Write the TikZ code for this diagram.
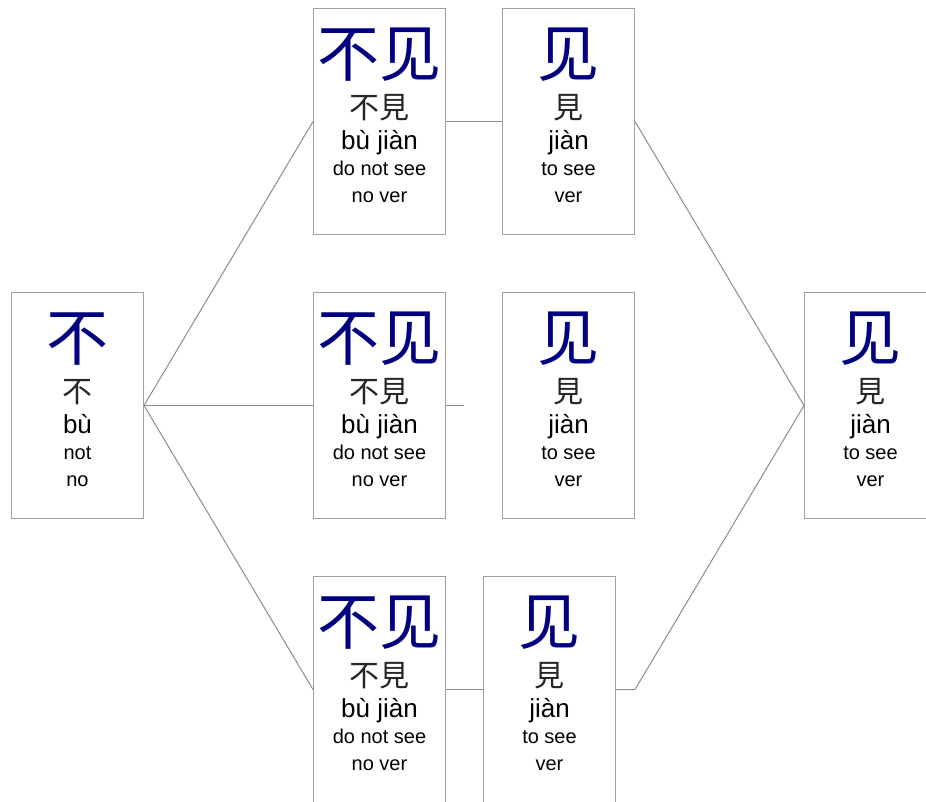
\documentclass[tikz,border=0pt]{standalone}
\usepackage{fontspec}
\setmainfont{Liberation Sans}
\newfontfamily\cjk{Noto Sans CJK SC}
\newfontfamily\cjktc{Noto Sans CJK TC}
\definecolor{hanblue}{RGB}{0,0,128}
\definecolor{edgegray}{RGB}{160,160,160}
\definecolor{wiregray}{RGB}{140,140,140}
\tikzset{
  card/.style={draw=edgegray, line width=0.75pt, fill=white, rectangle,
    minimum width=99pt, minimum height=169.5pt, inner sep=0pt, anchor=north west},
  hanzi/.style={anchor=base, inner sep=0pt, text=hanblue,
    font=\cjk\fontsize{46.5}{46.5}\selectfont},
  trad/.style={anchor=base, inner sep=0pt, text=black!85, font=\cjktc\fontsize{22.5}{22.5}\selectfont},
  pinyin/.style={anchor=base, inner sep=0pt, font=\fontsize{19.5}{19.5}\selectfont},
  gloss/.style={anchor=base, inner sep=0pt, font=\fontsize{15}{15}\selectfont},
  wire/.style={draw=wiregray, line width=0.75pt},
}
\newcommand\mycard[7]{%
  \node[card] (#1) at (#2) {};
  \node[hanzi]  (#1-h) at ([yshift=-51.5pt]#1.north) {#3};
  \node[trad]   (#1-t) at ([yshift=-82.5pt]#1.north) {#4};
  \node[pinyin] (#1-p) at ([yshift=-105.75pt]#1.north) {#5};
  \node[gloss]  (#1-g) at ([yshift=-125.25pt]#1.north) {#6};
  \node[gloss]  (#1-s) at ([yshift=-145.5pt]#1.north) {#7};
}
\begin{document}
\begin{tikzpicture}[x=0.75pt, y=-0.75pt]
  \useasboundingbox (0,0) rectangle (926,801);
  \clip (0,0) rectangle (926,801);
  \mycard{A}{11,292}{不}{不}{bù}{not}{no}
  \mycard{B1}{313,8}{不见}{不見}{bù jiàn}{do not see}{no ver}
  \mycard{C1}{502,8}{见}{見}{jiàn}{to see}{ver}
  \mycard{B2}{313,292}{不见}{不見}{bù jiàn}{do not see}{no ver}
  \mycard{C2}{502,292}{见}{見}{jiàn}{to see}{ver}
  \mycard{B3}{313,576}{不见}{不見}{bù jiàn}{do not see}{no ver}
  \mycard{C3}{483,576}{见}{見}{jiàn}{to see}{ver}
  \mycard{D}{804,292}{见}{見}{jiàn}{to see}{ver}
  \coordinate (stub) at ([xshift=13.5pt]B2.east);
  \coordinate (bend) at ([xshift=14.25pt]C3.east);
  \draw[wire] (A.east) -- (B1.west);
  \draw[wire] (A.east) -- (B2.west);
  \draw[wire] (A.east) -- (B3.west);
  \draw[wire] (B1.east) -- (C1.west);
  \draw[wire] (B2.east) -- (stub);
  \draw[wire] (B3.east) -- (C3.west);
  \draw[wire] (C1.east) -- (D.west);
  \draw[wire] (C3.east) -- (bend) -- (D.west);
\end{tikzpicture}
\end{document}
